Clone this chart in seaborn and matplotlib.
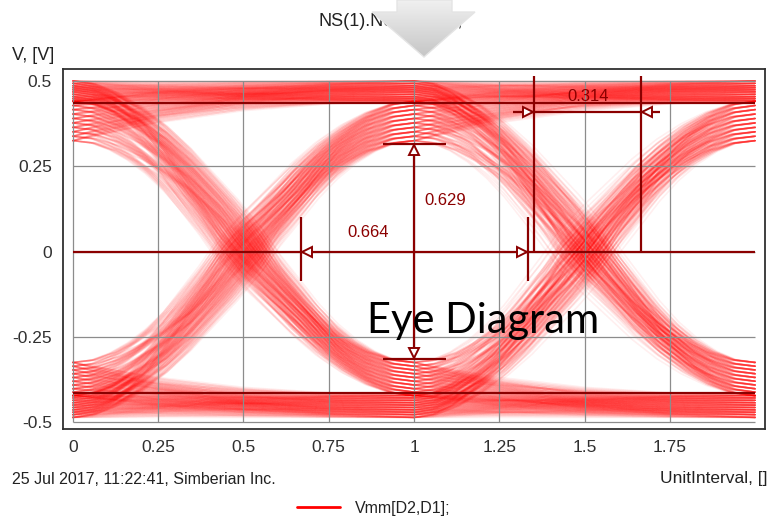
import numpy as np
import pandas as pd
import matplotlib
matplotlib.use("Agg")
import matplotlib.pyplot as plt
import seaborn as sns
from matplotlib.lines import Line2D
from matplotlib.patches import Polygon
from matplotlib.colors import LinearSegmentedColormap

# ---------------- data ----------------
# bit patterns: (bit before window, bit at UI 0, bit at UI 1, bit at UI 2)
bit_patterns = ["0000", "0001", "0010", "0011", "0100", "0101", "0110", "0111",
                "1000", "1001", "1010", "1011", "1100", "1101", "1110", "1111"]
# levels at bit centres (V): settled = repeated bit, fresh = just after a transition
high_settled = [0.442, 0.448, 0.454, 0.461, 0.468, 0.474, 0.480, 0.486, 0.493, 0.500]
high_fresh = [0.325, 0.338, 0.351, 0.364, 0.377, 0.390, 0.403, 0.416, 0.428, 0.440]
low_settled = [-0.422, -0.429, -0.436, -0.443, -0.450, -0.457, -0.464, -0.471, -0.478, -0.486]
low_fresh = [-0.325, -0.336, -0.347, -0.358, -0.369, -0.380, -0.391, -0.402, -0.412, -0.422]
# offsets (UI) of the edge mid-points around 0.5 / 1.5
crossing_jitter = [-0.077, -0.064, -0.051, -0.038, -0.025, -0.012,
                   0.001, 0.014, 0.027, 0.040, 0.053]
# normalised edge shape (phase relative to the crossing, UI)
edge_phase = [-0.5, -0.4375, -0.375, -0.3125, -0.25, -0.1875, -0.125, -0.0625, 0.0,
              0.0625, 0.125, 0.1875, 0.25, 0.3125, 0.375, 0.4375, 0.5]
edge_fraction = [0.0, 0.01, 0.04, 0.085, 0.145, 0.22, 0.31, 0.40, 0.50,
                 0.60, 0.69, 0.78, 0.855, 0.915, 0.96, 0.99, 1.0]
# slow settling of a repeated bit
settle_phase = [0.0, 0.25, 0.5, 0.75, 1.0]
settle_fraction = [0.0, 0.45, 0.75, 0.92, 1.0]

# measurement markers
eye_levels = [0.434, -0.414]
eye_height_ends = [-0.314, 0.315]
eye_width_ends = [0.669, 1.333]
jitter_ends = [1.352, 1.666]
measure_labels = ["0.629", "0.664", "0.314"]

x_ticks = [0, 0.25, 0.5, 0.75, 1, 1.25, 1.5, 1.75]
x_tick_labels = ["0", "0.25", "0.5", "0.75", "1", "1.25", "1.5", "1.75"]
y_ticks = [-0.5, -0.25, 0, 0.25, 0.5]
y_tick_labels = ["-0.5", "-0.25", "0", "0.25", "0.5"]


def level(bit, prev, idx):
    if bit == "1":
        return (high_settled if prev == "1" else high_fresh)[idx]
    return (low_settled if prev == "0" else low_fresh)[idx]


def segment(k, a, b, jit, same):
    xs, ys = [], []
    if same:
        for p, f in zip(settle_phase, settle_fraction):
            xs.append(k + p)
            ys.append(a + (b - a) * f)
    else:
        for p, f in zip(edge_phase, edge_fraction):
            if p <= 0:
                xs.append(k + (0.5 + jit) * (2 * p + 1))
            else:
                xs.append(k + 0.5 + jit + (0.5 - jit) * 2 * p)
            ys.append(a + (b - a) * f)
    return xs, ys


rows = []
tid = 0
nl = len(high_settled)
nj = len(crossing_jitter)
for pat in bit_patterns:
    for ji in range(nj):
        for li in range(nl):
            idx = [li, (3 * li + ji + 1) % nl, (7 * li + 2 * ji + 3) % nl]
            lv = [level(pat[c + 1], pat[c], idx[c]) for c in range(3)]
            jit = [crossing_jitter[ji], crossing_jitter[nj - 1 - (2 * ji + li + 3) % nj]]
            xs, ys = [], []
            for k in range(2):
                sx, sy = segment(k, lv[k], lv[k + 1], jit[k], pat[k + 1] == pat[k + 2])
                if k > 0:
                    sx, sy = sx[1:], sy[1:]
                xs += sx
                ys += sy
            for x, y in zip(xs, ys):
                rows.append((tid, x, y))
            tid += 1
df = pd.DataFrame(rows, columns=["trace", "ui", "volts"])

# ---------------- figure ----------------
sns.set_theme(style="white")
plt.rcParams["font.family"] = ["Liberation Sans", "DejaVu Sans"]

W, H = 769, 517
fig = plt.figure(figsize=(W / 100, H / 100), dpi=100)
fig.patch.set_facecolor("white")
ax = fig.add_axes([63 / W, 1 - 429 / H, (765 - 63) / W, (429 - 69) / H])

sns.lineplot(data=df, x="ui", y="volts", units="trace", estimator=None, sort=False,
             color="#ff0000", alpha=0.032, linewidth=1.2, legend=False, ax=ax, zorder=2)

ax.set_xlim(-0.029, 2.029)
ax.set_ylim(-0.52, 0.535)
ax.set_xlabel("")
ax.set_ylabel("")
ax.set_xticks(x_ticks)
ax.set_xticklabels(x_tick_labels)
ax.set_yticks(y_ticks)
ax.set_yticklabels(y_tick_labels)
ax.tick_params(direction="inout", length=7, width=1.0, colors="#303030",
               labelsize=12.5, pad=4.5)
for sp in ax.spines.values():
    sp.set_visible(True)
    sp.set_color("#303030")
    sp.set_linewidth(1.3)

# grid over the traces, limited to the data range
grid_c = "#8c8c8c"
ax.hlines(y_ticks, 0, 2, color=grid_c, lw=0.9, zorder=3)
ax.vlines(x_ticks, -0.5, 0.5, color=grid_c, lw=0.9, zorder=3)

# measurement overlay
mc = "#8b0000"
lw_m = 1.6
ax.hlines(eye_levels + [0.0], 0, 2, color=mc, lw=lw_m, zorder=4)
# eye height
ax.vlines(1.0, eye_height_ends[0], eye_height_ends[1], color=mc, lw=lw_m, zorder=4)
ax.hlines(eye_height_ends, 0.91, 1.094, color=mc, lw=lw_m, zorder=4)
mk = dict(color=mc, markerfacecolor="white", markeredgecolor=mc, markersize=6.5,
          markeredgewidth=1.4, linestyle="none", zorder=5)
ax.plot([1.0], [eye_height_ends[1] - 0.017], marker="^", **mk)
ax.plot([1.0], [eye_height_ends[0] + 0.017], marker="v", **mk)
# eye width
ax.vlines(eye_width_ends, -0.085, 0.10, color=mc, lw=lw_m, zorder=4)
ax.plot([eye_width_ends[0] + 0.017], [0.0], marker="<", **mk)
ax.plot([eye_width_ends[1] - 0.017], [0.0], marker=">", **mk)
# jitter
ax.vlines(jitter_ends, 0.0, 0.515, color=mc, lw=lw_m, zorder=4)
ax.hlines(0.41, 1.29, 1.72, color=mc, lw=lw_m, zorder=4)
ax.plot([jitter_ends[0] - 0.017], [0.41], marker=">", **mk)
ax.plot([jitter_ends[1] + 0.017], [0.41], marker="<", **mk)

ax.text(1.03, 0.15, measure_labels[0], color=mc, fontsize=12, ha="left", va="center", zorder=6)
ax.text(0.866, 0.056, measure_labels[1], color=mc, fontsize=12, ha="center", va="center", zorder=6)
ax.text(1.51, 0.455, measure_labels[2], color=mc, fontsize=12, ha="center", va="center", zorder=6)

ax.text(1.204, -0.238, "Eye Diagram", color="black", fontsize=30, ha="center",
        va="baseline", family=["Lato", "DejaVu Sans"], zorder=7)

# figure texts
tc = "#222222"
fig.text(318 / W, 1 - 22 / H, "NS(1).Nodes(D2);", ha="left", va="center", fontsize=13, color=tc)
fig.text(12 / W, 1 - 55 / H, "V, [V]", ha="left", va="center", fontsize=13, color=tc)
fig.text(768 / W, 1 - 478 / H, "UnitInterval, []", ha="right", va="center", fontsize=12.5, color=tc)
fig.text(12 / W, 1 - 480 / H, "25 Jul 2017, 11:22:41, Simberian Inc.", ha="left", va="center",
         fontsize=11.5, color=tc)

fig.legend(handles=[Line2D([], [], color="#ff0000", lw=2)], labels=["Vmm[D2,D1];"],
           loc="center left", bbox_to_anchor=(297 / W, 1 - 508 / H), frameon=False,
           fontsize=11.5, handlelength=2.7, handletextpad=0.95, borderpad=0, borderaxespad=0,
           labelcolor=tc)

# grey arrow decoration at the top
ov = fig.add_axes([0, 0, 1, 1], zorder=20)
arrow_xy = [(397, 0), (452, 0), (452, 12), (475, 12), (424, 57), (372, 12), (397, 12)]
poly = Polygon(arrow_xy, closed=True, facecolor="none", edgecolor="#e4e4e4", lw=1)
ov.add_patch(poly)
grad = np.linspace(0, 1, 64)[:, None]
cm = LinearSegmentedColormap.from_list("g", ["#f0f0f0", "#c6c6c6"])
im = ov.imshow(grad, extent=(372, 475, 57, 0), cmap=cm, aspect="auto")
im.set_clip_path(poly)
ov.set_xlim(0, W)
ov.set_ylim(H, 0)
ov.axis("off")

fig.savefig("out.png", dpi=100)
